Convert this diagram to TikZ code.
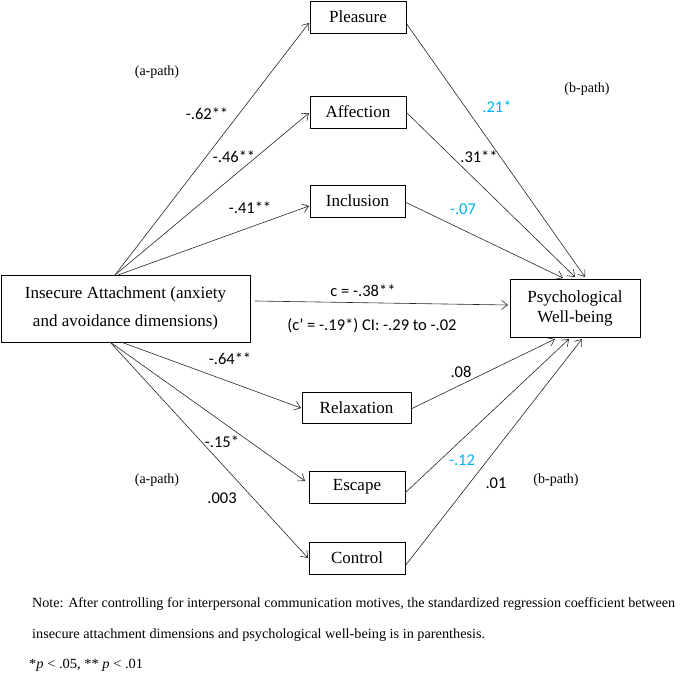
\documentclass[tikz,border=0pt]{standalone}
\usepackage{fontspec}
\setmainfont{Liberation Serif}
\newfontfamily\calfont{Carlito}
\usetikzlibrary{arrows.meta,calc}
\definecolor{lblue}{HTML}{00B0F0}
\begin{document}
\begin{tikzpicture}[x=1pt,y=-1pt,
  box/.style={draw=black,line width=0.9pt,inner sep=0pt,font=\fontsize{17}{20}\selectfont,align=center},
  arr/.style={draw=black!85,line width=0.6pt,-{Straight Barb[length=6pt,width=9pt,line width=0.6pt]}},
  lab/.style={font=\calfont\fontsize{16.5}{18}\selectfont,inner sep=0pt},
  blab/.style={lab,text=lblue},
  ptag/.style={font=\fontsize{14}{16}\selectfont,inner sep=0pt},
  note/.style={font=\fontsize{14}{16}\selectfont,inner sep=0pt,anchor=base west}]
\useasboundingbox (0,0) rectangle (685,677);
% boxes
\node[box,minimum width=96pt,minimum height=32pt] (ple) at (358,17) {Pleasure};
\node[box,minimum width=96pt,minimum height=32pt] (aff) at (358,112) {Affection};
\node[box,minimum width=95pt,minimum height=32pt] (inc) at (357.5,201) {Inclusion};
\node[box,minimum width=249pt,minimum height=67pt,font=\fontsize{17}{28}\selectfont] (ins) at (125.5,308.5) {Insecure Attachment (anxiety\\and avoidance dimensions)};
\node[box,minimum width=130pt,minimum height=58pt] (psy) at (575,308) {Psychological\\Well-being};
\node[box,minimum width=109pt,minimum height=31pt] (rel) at (356.5,407.5) {Relaxation};
\node[box,minimum width=96pt,minimum height=32pt] (esc) at (357,487) {Escape};
\node[box,minimum width=96pt,minimum height=32pt] (con) at (357,558) {Control};
% connection points
\coordinate (sA) at (115,275);
\coordinate (sB) at (118,275);
\coordinate (sC) at (121,342);
\coordinate (sD) at (110,342);
\coordinate (tPle) at (309,23);
\coordinate (tAff) at (309,113);
\coordinate (tInc) at (309,206);
\coordinate (tRel) at (301,408);
\coordinate (tEsc) at (305,481);
\coordinate (tCon) at (308,558);
\coordinate (oPle) at (406,23);
\coordinate (oAff) at (406,112);
\coordinate (oInc) at (405,202);
\coordinate (oRel) at (411,409);
\coordinate (oEsc) at (405,493);
\coordinate (oCon) at (405,566);
\coordinate (pA) at (585,277);
\coordinate (pB) at (575,277);
\coordinate (pC) at (563,278);
\coordinate (pD) at (555,339);
\coordinate (pE) at (569,339);
\coordinate (pF) at (582,339);
\coordinate (cS) at (255,301);
\coordinate (cT) at (508,305);
% a-paths
\draw[arr] (sA) -- (tPle);
\draw[arr] (sA) -- (tAff);
\draw[arr] (sB) -- (tInc);
\draw[arr] (sC) -- (tRel);
\draw[arr] (sD) -- (tEsc);
\draw[arr] (sD) -- (tCon);
% b-paths
\draw[arr] (oPle) -- (pA);
\draw[arr] (oAff) -- (pB);
\draw[arr] (oInc) -- (pC);
\draw[arr] (oRel) -- (pD);
\draw[arr] (oEsc) -- (pE);
\draw[arr] (oCon) -- (pF);
% c path
\draw[arr] (cS) -- (cT);
% labels
\node[ptag] (ap1) at (157,72) {(a-path)};
\node[ptag] (ap2) at (157,480) {(a-path)};
\node[ptag] (bp1) at (587,89) {(b-path)};
\node[ptag] (bp2) at (556,480) {(b-path)};
\node[lab] (l1) at (207,114) {-.62**};
\node[lab] (l2) at (234,157) {-.46**};
\node[lab] (l3) at (250,208) {-.41**};
\node[blab] (l4) at (497,107) {.21*};
\node[lab] (l5) at (479,157) {.31**};
\node[blab] (l6) at (463,209) {-.07};
\node[lab] (l7) at (363,291) {c = -.38**};
\node[lab] (l8) at (372,326) {(c’ = -.19*) CI: -.29 to -.02};
\node[lab] (l9) at (230,359) {-.64**};
\node[lab] (l10) at (461,372) {.08};
\node[lab] (l11) at (222,442) {-.15*};
\node[lab] (l12) at (222,498) {.003};
\node[blab] (l13) at (462,460) {-.12};
\node[lab] (l14) at (496,483) {.01};
% note
\node[note] (n1) at (32,607) {\resizebox{643pt}{\height}{Note: After controlling for interpersonal communication motives, the standardized regression coefficient between}};
\node[note] (n2) at (32,638) {\resizebox{453pt}{\height}{insecure attachment dimensions and psychological well-being is in parenthesis.}};
\node[note] (n3) at (29,668) {\resizebox{114pt}{\height}{*\textit{p} < .05, ** \textit{p} < .01}};
\end{tikzpicture}
\end{document}
